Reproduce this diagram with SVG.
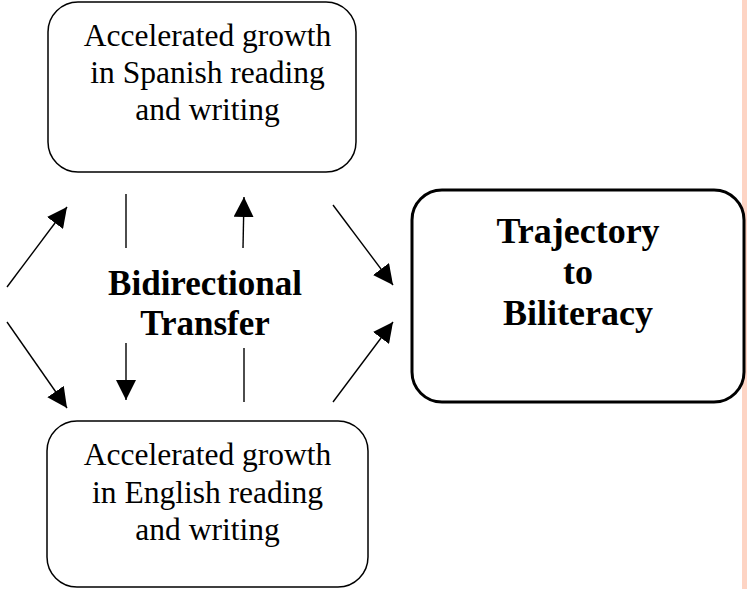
<svg xmlns="http://www.w3.org/2000/svg" width="747" height="589" viewBox="0 0 747 589">
<style>
.box{fill:#fff;stroke:#000;stroke-width:1.5}
.big{fill:#fff;stroke:#000;stroke-width:3}
.t{font-family:'Liberation Serif','Times New Roman',serif;font-size:31.5px;text-anchor:middle;fill:#000}
.b{font-family:'Liberation Serif','Times New Roman',serif;font-weight:bold;text-anchor:middle;fill:#000}
.ln{stroke:#000;stroke-width:1.4;fill:none}
</style>
<defs>
<marker id="ah" viewBox="0 0 20 20" refX="20" refY="10" markerWidth="20" markerHeight="20" markerUnits="userSpaceOnUse" orient="auto">
<path d="M0,0 L20,10 L0,20 Z" fill="#000"/>
</marker>
</defs>
<rect x="0" y="0" width="747" height="589" fill="#fff"/>
<rect x="742" y="0" width="5" height="589" fill="#fdd4c4"/>
<g id="spanish">
<rect class="box" x="48" y="2" width="308" height="170" rx="30" ry="30"/>
<text class="t" x="207.5" y="46">Accelerated growth</text>
<text class="t" x="207.5" y="83">in Spanish reading</text>
<text class="t" x="207.5" y="120">and writing</text>
</g>
<g id="english">
<rect class="box" x="47" y="421" width="321" height="166" rx="30" ry="30"/>
<text class="t" x="207.5" y="465">Accelerated growth</text>
<text class="t" x="207.5" y="503">in English reading</text>
<text class="t" x="207.5" y="540">and writing</text>
</g>
<g id="trajectory">
<rect class="big" x="412" y="190" width="332" height="212" rx="30" ry="30"/>
<text class="b" font-size="36" x="578" y="243">Trajectory</text>
<text class="b" font-size="36" x="578" y="284">to</text>
<text class="b" font-size="36" x="578" y="325">Biliteracy</text>
</g>
<g id="transfer">
<text class="b" font-size="35" x="205" y="295">Bidirectional</text>
<text class="b" font-size="35" x="205" y="335">Transfer</text>
</g>
<g id="connectors">
<line class="ln" x1="7" y1="287" x2="67" y2="207" marker-end="url(#ah)"/>
<line class="ln" x1="7" y1="322" x2="67" y2="408" marker-end="url(#ah)"/>
<line class="ln" x1="126" y1="194" x2="126" y2="248"/>
<line class="ln" x1="126" y1="343" x2="126" y2="400" marker-end="url(#ah)"/>
<line class="ln" x1="243" y1="248" x2="244" y2="197" marker-end="url(#ah)"/>
<line class="ln" x1="244" y1="348" x2="244" y2="402"/>
<line class="ln" x1="333" y1="205" x2="393" y2="285" marker-end="url(#ah)"/>
<line class="ln" x1="333" y1="402" x2="393" y2="322" marker-end="url(#ah)"/>
</g>
</svg>
